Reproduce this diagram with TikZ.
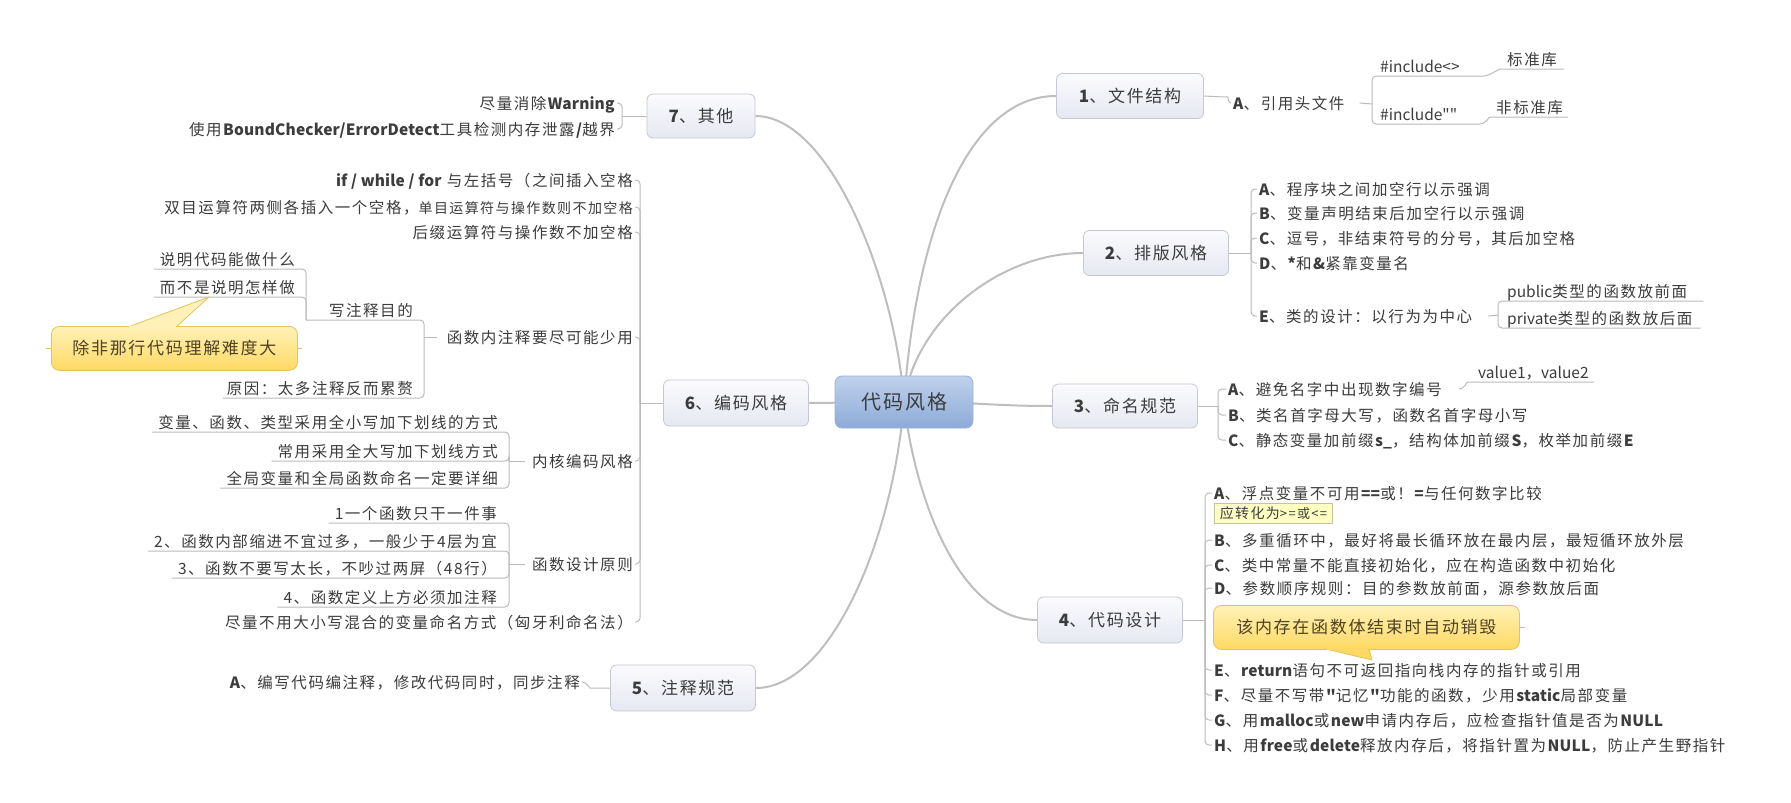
\documentclass[tikz,border=0pt]{standalone}
\usepackage{fontspec}
\setmainfont{Noto Sans CJK SC}[Ligatures=TeXOff, LetterSpace=10, BoldFeatures={LetterSpace=1}]
\newfontfamily\latinfam{Noto Sans CJK SC}[Ligatures=TeXOff]
\usepackage{tikz}
\usetikzlibrary{positioning, calc, backgrounds}
\usepackage{xcolor}
\definecolor{ink}{HTML}{3C3C3C}
\definecolor{wire}{HTML}{BEBEBE}
\definecolor{twigc}{HTML}{BBBBBB}
\definecolor{topicedge}{HTML}{C5C7D5}
\definecolor{topictop}{HTML}{FBFBFD}
\definecolor{topicbot}{HTML}{E6E8F2}
\definecolor{roottop}{HTML}{C0D1EC}
\definecolor{rootbot}{HTML}{8CABD8}
\definecolor{rootedge}{HTML}{9DB3D5}
\definecolor{calltop}{HTML}{FFF1B8}
\definecolor{callbot}{HTML}{FFD964}
\definecolor{calledge}{HTML}{E6C25E}
\definecolor{callink}{HTML}{4E4322}
\definecolor{notefill}{HTML}{FFFFC4}
\definecolor{noteedge}{HTML}{C8C29A}
\tikzset{
  rootbox/.style={draw=rootedge, line width=0.8, rounded corners=7, top color=roottop, bottom color=rootbot,
    minimum width=138, minimum height=52, font=\fontsize{20}{24}\selectfont, text=ink},
  topic/.style={draw=topicedge, line width=0.8, rounded corners=6, top color=topictop, bottom color=topicbot,
    minimum width=145, minimum height=45, font=\fontsize{17}{20}\selectfont, text=ink},
  leaf/.style={inner xsep=2, inner ysep=1, text height=14, text depth=2, font=\fontsize{15.5}{18}\selectfont, text=ink},
  uleaf/.style={leaf, inner sep=0, text depth=3},
  callout/.style={draw=calledge, line width=0.8, rounded corners=8, top color=calltop, bottom color=callbot,
    minimum height=44, font=\fontsize{17}{20}\selectfont, text=callink},
  notebox/.style={draw=noteedge, fill=notefill, line width=0.8, inner xsep=4, inner ysep=0, minimum height=20,
    minimum width=118, text height=13, text depth=3, font=\fontsize{14}{16}\selectfont, text=ink},
  wirepath/.style={draw=wire, line width=2},
  twig/.style={draw=twigc, line width=1, rounded corners=4},
  calltick/.style={draw=calledge, line width=1}
}

\begin{document}
\begin{tikzpicture}[x=1pt, y=-1pt]
  \useasboundingbox (0,0) rectangle (1791,803);
  % centre and the seven topics
  \node[rootbox] (root) at (904,402) {代码风格};
  \node[topic, minimum width=147] (b1) at (1130,96) {\textbf{1}、文件结构};
  \node[topic] (b2) at (1156,253) {\textbf{2}、排版风格};
  \node[topic, minimum height=44] (b3) at (1125,406) {\textbf{3}、命名规范};
  \node[topic, minimum height=46] (b4) at (1110,620) {\textbf{4}、代码设计};
  \node[topic, minimum height=46] (b5) at (683,688) {\textbf{5}、注释规范};
  \node[topic, minimum height=46] (b6) at (736,403) {\textbf{6}、编码风格};
  \node[topic, minimum width=108, minimum height=44] (b7) at (701,116) {\textbf{7}、其他};

  % 1 文件结构
  \coordinate (j1a) at (1224,97);
  \coordinate (j1) at (1372,104);
  \node[leaf, anchor=west] (a1) at (1231,103) {\textbf{A}、引用头文件};
  \node[uleaf, anchor=south west] (inc1) at (1380,76) {\latinfam\#include<>};
  \node[uleaf, anchor=south west] (inc2) at (1380,124) {\latinfam\#include""};
  \node[uleaf, anchor=south west] (std) at (1507,69) {标准库};
  \node[uleaf, anchor=south west] (nstd) at (1496,117) {非标准库};

  % 2 排版风格
  \coordinate (j2) at (1251,253);
  \coordinate (jE) at (1498,315);
  \node[leaf, anchor=west] (n2a) at (1257,189) {\textbf{A}、程序块之间加空行以示强调};
  \node[leaf, anchor=west] (n2b) at (1257,213) {\textbf{B}、变量声明结束后加空行以示强调};
  \node[leaf, anchor=west] (n2c) at (1257,238) {\textbf{C}、逗号，非结束符号的分号，其后加空格};
  \node[leaf, anchor=west] (n2d) at (1257,263) {\textbf{D}、\textbf{*}和\textbf{\&}紧靠变量名};
  \node[leaf, anchor=west] (n2e) at (1257,316) {\textbf{E}、类的设计：以行为为中心};
  \node[uleaf, anchor=south west] (pub) at (1507,301) {{\latinfam public}类型的函数放前面};
  \node[uleaf, anchor=south west] (priv) at (1507,328) {{\latinfam private}类型的函数放后面};

  % 3 命名规范
  \coordinate (j3) at (1218,406);
  \node[leaf, anchor=west] (n3a) at (1226,389) {\textbf{A}、避免名字中出现数字编号};
  \node[leaf, anchor=west] (n3b) at (1226,415) {\textbf{B}、类名首字母大写，函数名首字母小写};
  \node[leaf, anchor=west] (n3c) at (1226,440) {\textbf{C}、静态变量加前缀\textbf{s\_}，结构体加前缀\textbf{S}，枚举加前缀\textbf{E}};
  \node[uleaf, anchor=south west] (val) at (1478,382) {{\latinfam value1}，{\latinfam value2}};

  % 4 代码设计
  \coordinate (j4) at (1205,620);
  \node[leaf, anchor=west] (n4a) at (1212,493) {\textbf{A}、浮点变量不可用\textbf{==}或！\textbf{=}与任何数字比较};
  \node[notebox, anchor=north west] (note4) at (1214,503) {应转化为{\fontsize{13}{15}\selectfont >=或<=}};
  \node[leaf, anchor=west] (n4b) at (1212,540) {\textbf{B}、多重循环中，最好将最长循环放在最内层，最短循环放外层};
  \node[leaf, anchor=west] (n4c) at (1212,565) {\textbf{C}、类中常量不能直接初始化，应在构造函数中初始化};
  \node[leaf, anchor=west] (n4d) at (1212,588) {\textbf{D}、参数顺序规则：目的参数放前面，源参数放后面};
  \node[callout, minimum width=306, anchor=north west] (call4) at (1213,605) {该内存在函数体结束时自动销毁};
  \coordinate (tip4) at (1372,660);
  \node[leaf, anchor=west] (n4e) at (1212,670) {\textbf{E}、\textbf{return}语句不可返回指向栈内存的指针或引用};
  \node[leaf, anchor=west] (n4f) at (1212,695) {\textbf{F}、尽量不写带\textbf{"}记忆\textbf{"}功能的函数，少用\textbf{static}局部变量};
  \node[leaf, anchor=west] (n4g) at (1212,720) {\textbf{G}、用\textbf{malloc}或\textbf{new}申请内存后，应检查指针值是否为\textbf{NULL}};
  \node[leaf, anchor=west] (n4h) at (1212,745) {\textbf{H}、用\textbf{free}或\textbf{delete}释放内存后，将指针置为\textbf{NULL}，防止产生野指针};

  % 5 注释规范
  \coordinate (j5) at (594,688);
  \node[leaf, anchor=east] (n5a) at (582,682) {\textbf{A}、编写代码编注释，修改代码同时，同步注释};

  % 6 编码风格
  \coordinate (j6) at (640,403);
  \node[leaf, anchor=east] (n6a) at (635,180) {\textbf{if / while / for} 与左括号（之间插入空格};
  \node[leaf, anchor=east] (n6b) at (635,207) {双目运算符两侧各插入一个空格，{\fontsize{14}{16}\selectfont 单目运算符与操作数则不加空格}};
  \node[leaf, anchor=east] (n6c) at (635,232) {后缀运算符与操作数不加空格};
  \node[leaf, anchor=east] (n6d) at (635,337) {函数内注释要尽可能少用};
  \node[leaf, anchor=east] (n6e) at (635,461) {内核编码风格};
  \node[leaf, anchor=east] (n6f) at (635,564) {函数设计原则};
  \node[leaf, anchor=east] (n6g) at (635,622) {尽量不用大小写混合的变量命名方式（匈牙利命名法）};
  \coordinate (jd) at (424,337);
  \coordinate (jw) at (306,320);
  \node[uleaf, anchor=south east] (why) at (413,320) {写注释目的};
  \node[uleaf, anchor=south east] (cause) at (413,398) {原因：太多注释反而累赘};
  \node[uleaf, anchor=south east] (what) at (295,269) {说明代码能做什么};
  \node[uleaf, anchor=south east] (hownot) at (295,297) {而不是说明怎样做};
  \node[callout, minimum width=246, anchor=north west] (call6) at (51,326) {除非那行代码理解难度大};
  \coordinate (tip6) at (209,297);
  \coordinate (je) at (509,461);
  \node[uleaf, anchor=south east] (k1) at (498,432) {变量、函数、类型采用全小写加下划线的方式};
  \node[uleaf, anchor=south east] (k2) at (498,461) {常用采用全大写加下划线方式};
  \node[uleaf, anchor=south east] (k3) at (498,488) {全局变量和全局函数命名一定要详细};
  \coordinate (jf) at (509,564);
  \node[uleaf, anchor=south east] (f1) at (497,523) {1一个函数只干一件事};
  \node[uleaf, anchor=south east] (f2) at (497,551) {2、函数内部缩进不宜过多，一般少于4层为宜};
  \node[uleaf, anchor=south east] (f3) at (497,578) {3、函数不要写太长，不吵过两屏（48行）};
  \node[uleaf, anchor=south east] (f4) at (497,607) {4、函数定义上方必须加注释};

  % 7 其他
  \coordinate (j7) at (622,116);
  \node[leaf, anchor=east] (o1) at (617,103) {尽量消除\textbf{Warning}};
  \node[leaf, anchor=east] (o2) at (617,129) {使用\textbf{BoundChecker/ErrorDetect}工具检测内存泄露\textbf{/}越界};

  % callout tails sit over the box border
  \filldraw[draw=calledge, fill=calltop, line width=0.8, line join=round]
    ([xshift=77,yshift=-1]call6.north west) -- (tip6) -- ([xshift=125,yshift=-1]call6.north west);
  \fill[calltop] ([xshift=78,yshift=-2.5]call6.north west) rectangle ([xshift=124,yshift=0.5]call6.north west);
  \filldraw[draw=calledge, fill=callbot, line width=0.8, line join=round]
    ([xshift=112,yshift=1]call4.south west) -- (tip4) -- ([xshift=156,yshift=1]call4.south west);
  \fill[callbot] ([xshift=113,yshift=2.5]call4.south west) rectangle ([xshift=155,yshift=-0.5]call4.south west);
  \draw[calltick] (call6.west) -- +(-5,0);
  \draw[calltick] (call6.east) -- +(4,0);
  \draw[calltick] (call4.east) -- +(5,0);

  \begin{scope}[on background layer]
    \fill[white] (0,0) rectangle (1791,803);
    % curved main branches, from the centre of the root
    \draw[wirepath] (root.center) .. controls (916,230) and (968,96) .. (b1.west);
    \draw[wirepath] (root.center) .. controls (915,320) and (1000,253) .. (b2.west);
    \draw[wirepath] (root.center) .. controls (980,402) and (990,406) .. (b3.west);
    \draw[wirepath] (root.center) .. controls (915,500) and (960,620) .. (b4.west);
    \draw[wirepath] (root.center) .. controls (893,540) and (830,688) .. (b5.east);
    \draw[wirepath] (root.center) -- (b6.east);
    \draw[wirepath] (root.center) .. controls (895,280) and (830,116) .. (b7.east);
    % brackets and underlines
    \draw[twig] (b1.east) -- (j1a) .. controls +(4,0) and +(-3,0) .. (a1.west);
    \draw[twig] ([xshift=13]a1.east) -- (j1);
    \draw[twig] (j1) |- ([xshift=24]inc1.south east);
    \draw[twig] (j1) |- ([xshift=23]inc2.south east);
    \draw[twig] ([xshift=24]inc1.south east) .. controls +(5,0) and +(-5,0) .. ([xshift=-3]std.south west) -- ([xshift=7]std.south east);
    \draw[twig] ([xshift=23]inc2.south east) .. controls +(5,0) and +(-5,0) .. ([xshift=-2]nstd.south west) -- ([xshift=5]nstd.south east);
    \draw[twig] (b2.east) -- (j2);
    \foreach \n in {n2a,n2b,n2c,n2d,n2e} \draw[twig] (j2) |- (\n.west);
    \draw[twig] ([xshift=14]n2e.east) -- (jE);
    \draw[twig] (jE) |- ([xshift=16]pub.south east);
    \draw[twig] (jE) |- ([xshift=8]priv.south east);
    \draw[twig] (b3.east) -- (j3);
    \foreach \n in {n3a,n3b,n3c} \draw[twig] (j3) |- (\n.west);
    \draw[twig] ([xshift=15]n3a.east) .. controls +(6,0) and +(-6,0) .. ([xshift=-6]val.south west) -- ([xshift=5]val.south east);
    \draw[twig] (b4.east) -- (j4);
    \foreach \n in {n4a,n4b,n4c,n4d,n4e,n4f,n4g,n4h} \draw[twig] (j4) |- (\n.west);
    \draw[twig] (b5.west) -- (j5) .. controls +(-5,0) and +(5,0) .. (n5a.east);
    \draw[twig] (b6.west) -- (j6);
    \foreach \n in {n6a,n6b,n6c,n6d,n6e,n6f,n6g} \draw[twig] (j6) |- (\n.east);
    \draw[twig] ([xshift=-8]n6d.west) -- (jd);
    \draw[twig] (jd) |- (jw);
    \draw[twig] (jd) |- ([xshift=-4]cause.south west);
    \draw[twig] (jw) |- ([xshift=-6]what.south west);
    \draw[twig] (jw) |- ([xshift=-6]hownot.south west);
    \draw[twig] ([xshift=-5]n6e.west) -- (je);
    \foreach \n in {k1,k2,k3} \draw[twig] (je) |- ([xshift=-6]\n.south west);
    \draw[twig] ([xshift=-5]n6f.west) -- (jf);
    \foreach \n in {f1,f2,f3,f4} \draw[twig] (jf) |- ([xshift=-6]\n.south west);
    \draw[twig] (b7.west) -- (j7);
    \draw[twig] (j7) |- (o1.east);
    \draw[twig] (j7) |- (o2.east);
  \end{scope}
\end{tikzpicture}
\end{document}
